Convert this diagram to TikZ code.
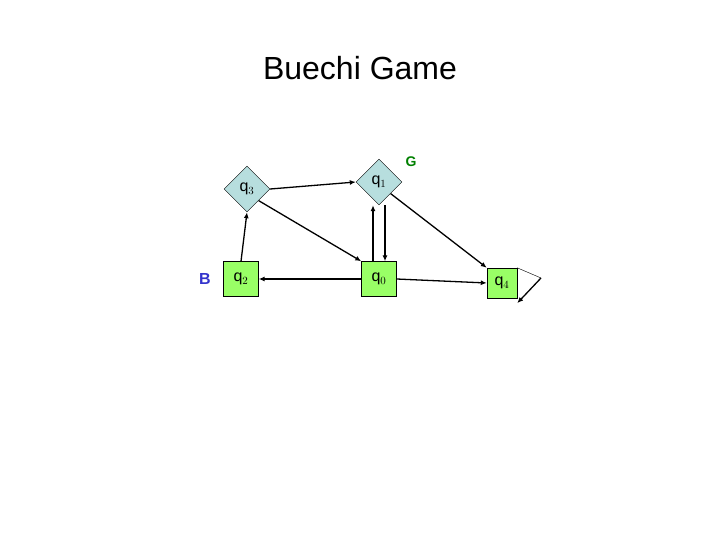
\documentclass[tikz,border=0pt]{standalone}
\usepackage{fontspec}
\setmainfont{Liberation Sans}
\usetikzlibrary{arrows.meta, shapes.geometric}
\definecolor{boxgreen}{RGB}{153,255,102}
\definecolor{diablue}{RGB}{183,222,222}
\definecolor{bblue}{RGB}{51,51,204}
\definecolor{ggreen}{RGB}{0,128,0}

\begin{document}
\begin{tikzpicture}[x=1pt, y=-1pt, >={Latex[length=6pt,width=5pt]},
  box/.style={draw, fill=boxgreen, minimum size=35pt, inner sep=0pt, font=\fontsize{16}{16}\selectfont},
  dia/.style={draw, diamond, fill=diablue, minimum size=46pt, inner sep=0pt, font=\fontsize{16}{16}\selectfont},
  edge/.style={->, line width=1.3pt}]
\useasboundingbox (0,0) rectangle (720,540);

% --- title ---
\node (title) at (360,68) {\fontsize{32}{32}\selectfont Buechi Game};

% --- states ---
\node[dia] (q3) at (247,189) {q$_3$};
\node[dia] (q1) at (379,182) {q$_1$};
\node[box] (q2) at (241,279) {q$_2$};
\node[box] (q0) at (379,279) {q$_0$};
\node[box, minimum size=30pt] (q4) at (502,283) {q$_4$};

% --- sets ---
\node[text=bblue, font=\fontsize{16}{16}\selectfont\bfseries] (B) at (205,279) {B};
\node[text=ggreen, font=\fontsize{14}{14}\selectfont\bfseries] (G) at (411,162) {G};

% --- moves ---
\draw[edge] (q3.east) -- (q1.west);
\draw[edge] (q3.south east) -- (q0.north west);
\draw[edge] ([xshift=-6pt]q0.north) -- ([xshift=-6pt]q1.south);
\draw[edge] ([xshift=6pt]q1.south) -- ([xshift=6pt]q0.north);
\draw[edge] (q1.south east) -- (q4.north west);
\draw[edge] (q2.north) -- (q3.south);
\draw[edge] (q0.west) -- (q2.east);
\draw[edge] (q0.east) -- (q4.west);

% self loop on q4
\coordinate (loop) at (541,278);
\draw (q4.north east) -- (loop);
\draw[edge] (loop) -- ([yshift=-5pt]q4.south east);
\end{tikzpicture}
\end{document}
